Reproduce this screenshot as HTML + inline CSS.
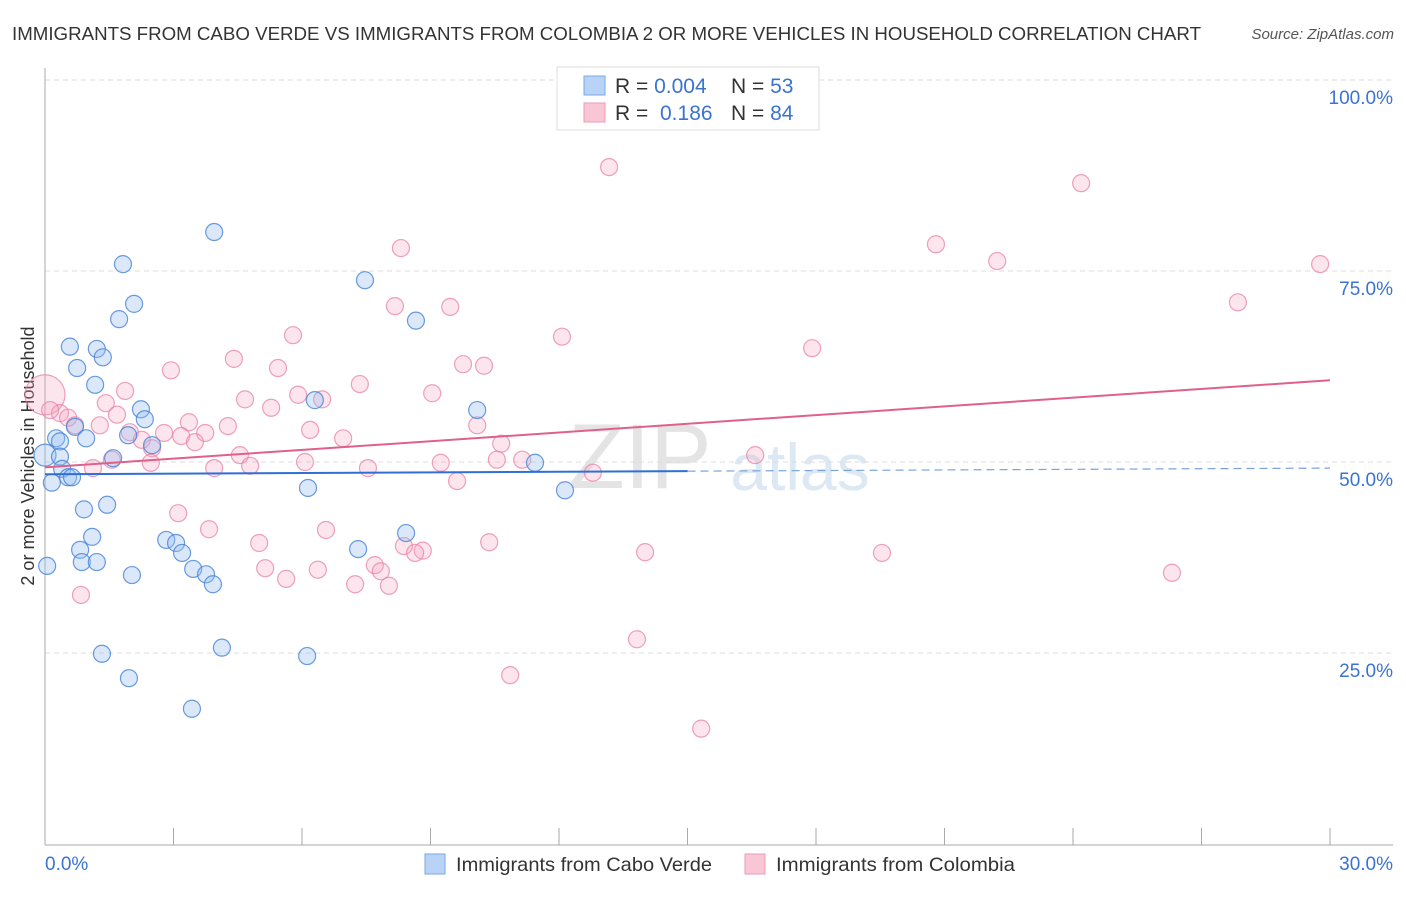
<!DOCTYPE html>
<html><head><meta charset="utf-8"><style>
body{margin:0;background:#fff;font-family:"Liberation Sans",sans-serif;}
svg text{font-family:"Liberation Sans",sans-serif;}
</style></head><body>
<svg id="chart" width="1406" height="892">
<text x="12" y="40" font-size="18" fill="#333" textLength="1189" lengthAdjust="spacingAndGlyphs">IMMIGRANTS FROM CABO VERDE VS IMMIGRANTS FROM COLOMBIA 2 OR MORE VEHICLES IN HOUSEHOLD CORRELATION CHART</text>
<text x="1394" y="39" font-size="15" fill="#555" font-style="italic" text-anchor="end">Source: ZipAtlas.com</text>
<text x="640" y="488" font-size="92" fill="#e4e4e4" font-family="Liberation Serif" text-anchor="middle">ZIP</text>
<text x="800" y="490" font-size="66" fill="#dde8f5" text-anchor="middle">atlas</text>
<text transform="translate(34,456) rotate(-90)" font-size="18" fill="#333" text-anchor="middle">2 or more Vehicles in Household</text>
<g id="grid"></g><g id="pts"></g><g id="trend"></g>
<g>
<rect x="557" y="67" width="262" height="63" fill="#fff" stroke="#ddd"/>
<rect x="584" y="76" width="21" height="19" fill="#b8d3f5" stroke="#7aa8e6"/>
<rect x="584" y="103" width="21" height="19" fill="#f9c6d5" stroke="#ee9ab5"/>
<text x="615" y="93" font-size="21" fill="#333">R = <tspan fill="#3b73d0">0.004</tspan></text>
<text x="731" y="93" font-size="21" fill="#333">N = <tspan fill="#3b73d0">53</tspan></text>
<text x="615" y="120" font-size="21" fill="#333">R = </text><text x="660" y="120" font-size="21" fill="#3b73d0">0.186</text>
<text x="731" y="120" font-size="21" fill="#333">N = <tspan fill="#3b73d0">84</tspan></text>
</g>
<g>
<rect x="425" y="854" width="20" height="20" fill="#b8d3f5" stroke="#7aa8e6"/>
<text x="456" y="871" font-size="19.5" fill="#333" textLength="256" lengthAdjust="spacingAndGlyphs">Immigrants from Cabo Verde</text>
<rect x="745" y="854" width="20" height="20" fill="#f9c6d5" stroke="#ee9ab5"/>
<text x="776" y="871" font-size="19.5" fill="#333" textLength="239" lengthAdjust="spacingAndGlyphs">Immigrants from Colombia</text>
</g>
</svg>
<script>
const blueX=[3.95,1.82,2.08,1.73,7.47,8.66,0.58,1.21,1.35,0.75,1.17,6.30,10.09,2.24,2.33,0.70,0.26,0.35,0.96,1.94,2.50,0,0.35,1.59,11.44,0.40,0.54,0.63,0.16,6.14,12.14,0.91,1.45,1.10,8.43,2.83,3.06,0.82,3.20,7.31,0.86,1.21,0.05,3.46,3.76,2.03,3.92,1.33,4.13,6.12,1.96,3.43];
const blueY=[80.1,75.9,70.7,68.7,73.8,68.5,65.1,64.8,63.7,62.3,60.1,58.1,56.8,56.9,55.6,54.6,53.1,52.7,53.1,53.5,52.2,50.9,50.7,50.5,49.9,49.1,48.0,48.0,47.3,46.6,46.3,43.8,44.4,40.2,40.7,39.8,39.4,38.5,38.1,38.6,36.9,36.9,36.4,36.0,35.3,35.2,34.0,24.9,25.7,24.6,21.7,17.7];
const pinkX=[13.17,24.19,20.80,8.31,22.23,29.77,27.85,8.17,9.46,5.79,12.07,17.91,4.41,9.76,10.25,2.94,5.44,7.35,1.87,9.04,5.91,4.67,6.47,0,1.42,5.28,1.68,0.35,0.12,0.54,0.70,1.28,4.27,3.36,10.09,6.19,3.74,2.78,3.18,6.96,1.98,2.26,3.50,10.65,2.50,4.55,1.56,16.58,11.14,10.55,9.24,2.47,1.12,3.95,4.79,6.07,7.54,12.79,9.62,3.11,3.83,6.56,10.37,5.00,8.38,8.82,8.64,14.01,19.54,7.70,5.14,6.37,7.84,26.31,5.63,7.24,8.03,0.84,13.82,10.86,15.32];
const pinkY=[88.6,86.5,78.5,78.0,76.3,75.9,70.9,70.4,70.3,66.6,66.4,64.9,63.5,62.8,62.6,62.0,62.3,60.2,59.3,59.0,58.8,58.2,58.2,58.8,57.7,57.1,56.2,56.4,56.8,55.8,54.8,54.8,54.7,55.2,54.8,54.2,53.8,53.8,53.4,53.1,53.9,52.9,52.6,52.4,51.8,50.9,50.3,50.9,50.3,50.3,49.9,49.9,49.2,49.2,49.5,50.0,49.2,48.6,47.5,43.3,41.2,41.1,39.5,39.4,39.0,38.4,38.1,38.2,38.1,36.5,36.1,35.9,35.7,35.5,34.7,34.0,33.8,32.6,26.8,22.1,15.1];
const pinkSize=[];pinkSize[23]=20;
const blueSize=[];blueSize[21]=11;
const yTicks=[25,50,75,100];
const xTickLabels=["0.0%","30.0%"];
const blueTrend=[48.4,49.2];const pinkTrend=[49.3,60.7];
const NS="http://www.w3.org/2000/svg";
const X=v=>45+v/30*1285, Y=v=>844-v/25*191;
function mk(t,a,p){const e=document.createElementNS(NS,t);for(const k in a)e.setAttribute(k,a[k]);p.appendChild(e);return e;}
const grid=document.getElementById('grid');
yTicks.forEach(t=>{
 const l=mk('line',{x1:45,x2:1393,y1:Y(t),y2:Y(t),stroke:'#ddd','stroke-dasharray':'5,4'},grid);
 
 
 const tx=mk('text',{x:1393,y:Y(t)+24,'font-size':19,fill:'#3b73d0','text-anchor':'end'},grid);tx.textContent=t.toFixed(1)+'%';
 
 
});
const ax=mk('line',{x1:45,x2:45,y1:68,y2:845,stroke:'#aaa'},grid);


const bx=mk('line',{x1:45,x2:1393,y1:845,y2:845,stroke:'#aaa'},grid);


for(let i=0;i<=10;i++){const t=mk('line',{x1:X(i*3),x2:X(i*3),y1:828,y2:845,stroke:'#aaa'},grid);
 
 }
const xl0=mk('text',{x:45,y:870,'font-size':19,fill:'#3b73d0'},grid);xl0.textContent=xTickLabels[0];


const xl1=mk('text',{x:1393,y:870,'font-size':19,fill:'#3b73d0','text-anchor':'end'},grid);xl1.textContent=xTickLabels[1];


const pts=document.getElementById('pts');
pinkX.forEach((v,i)=>{const c=mk('circle',{cx:X(v),cy:Y(pinkY[i]),r:pinkSize[i]||8.5,fill:'rgba(245,160,190,0.28)',stroke:'rgba(232,130,165,0.75)','stroke-width':1.2},pts);
 
 });
blueX.forEach((v,i)=>{const c=mk('circle',{cx:X(v),cy:Y(blueY[i]),r:blueSize[i]||8.5,fill:'rgba(150,190,240,0.35)',stroke:'rgba(70,130,215,0.8)','stroke-width':1.2},pts);
 
 });
const tr=document.getElementById('trend');
const bl=v=>blueTrend[0]+(blueTrend[1]-blueTrend[0])*v/30;
const t1=mk('line',{x1:X(0),y1:Y(bl(0)),x2:X(15),y2:Y(bl(15)),stroke:'#2f6fd6','stroke-width':2},tr);


const t2=mk('line',{x1:X(15),y1:Y(bl(15)),x2:X(30),y2:Y(bl(30)),stroke:'#7aa3de','stroke-width':1.2,'stroke-dasharray':'8,5'},tr);


const t3=mk('line',{x1:X(0),y1:Y(pinkTrend[0]),x2:X(30),y2:Y(pinkTrend[1]),stroke:'#e0608c','stroke-width':2},tr);


</script>
</body></html>
